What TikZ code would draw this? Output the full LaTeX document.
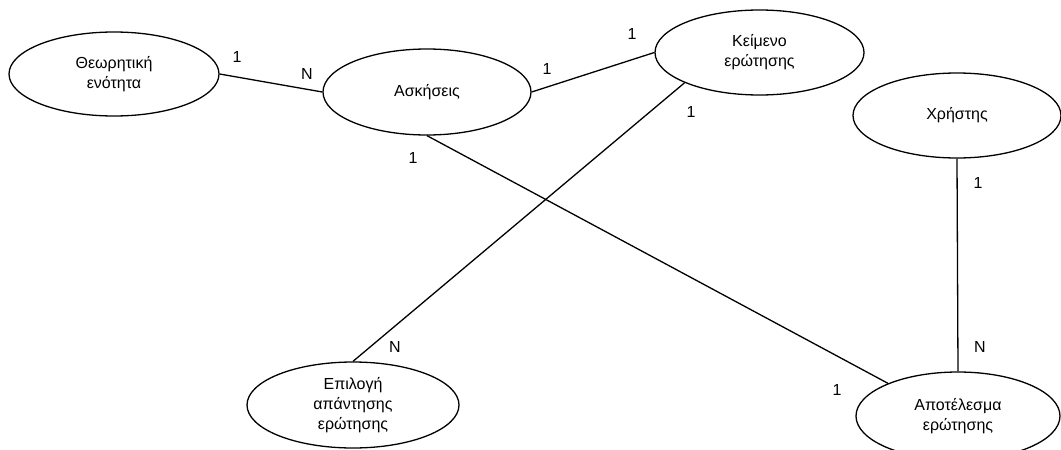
\documentclass[tikz,border=0pt]{standalone}
\usepackage{fontspec}
\setmainfont{Liberation Sans}
\usetikzlibrary{shapes.geometric}
\begin{document}
\begin{tikzpicture}[x=1pt,y=-1pt,
  entity/.style={draw, ellipse, line width=1.3pt, inner sep=0pt,
    align=center, font=\fontsize{16}{20}\selectfont},
  link/.style={line width=1.3pt},
  card/.style={font=\fontsize{16}{20}\selectfont, inner sep=0pt}]
\useasboundingbox (0,0) rectangle (1061,450);
\clip (0,0) rectangle (1061,450);

% entities
\node[entity, minimum width=210pt, minimum height=84pt] (theory) at (114,74) {Θεωρητική\\ενότητα};
\node[entity, minimum width=208pt, minimum height=86pt] (ex) at (427,92) {Ασκήσεις};
\node[entity, minimum width=209pt, minimum height=85pt] (qtext) at (759.5,52.5) {Κείμενο\\ερώτησης};
\node[entity, minimum width=208pt, minimum height=85pt] (user) at (957,115.5) {Χρήστης};
\node[entity, minimum width=212pt, minimum height=86pt] (choice) at (353,405) {Επιλογή\\απάντησης\\ερώτησης};
\node[entity, minimum width=204pt, minimum height=88pt] (result) at (958,416) {Αποτέλεσμα\\ερώτησης};

% relationships
\draw[link] (theory.east) -- (ex.west);
\draw[link] (ex.east) -- (qtext.west);
\draw[link] (qtext.202) -- (choice.north);
\draw[link] (ex.south) -- (result.155);
\draw[link] (user.south) -- (result.north);

% cardinalities
\node[card] (c1) at (237,57) {1};
\node[card] (c2) at (307,74) {N};
\node[card] (c3) at (547,69) {1};
\node[card] (c4) at (632,34) {1};
\node[card] (c5) at (691,112) {1};
\node[card] (c6) at (413,158) {1};
\node[card] (c7) at (978,183) {1};
\node[card] (c8) at (980,347) {N};
\node[card] (c9) at (837,390) {1};
\node[card] (c10) at (395,347) {N};
\end{tikzpicture}
\end{document}
